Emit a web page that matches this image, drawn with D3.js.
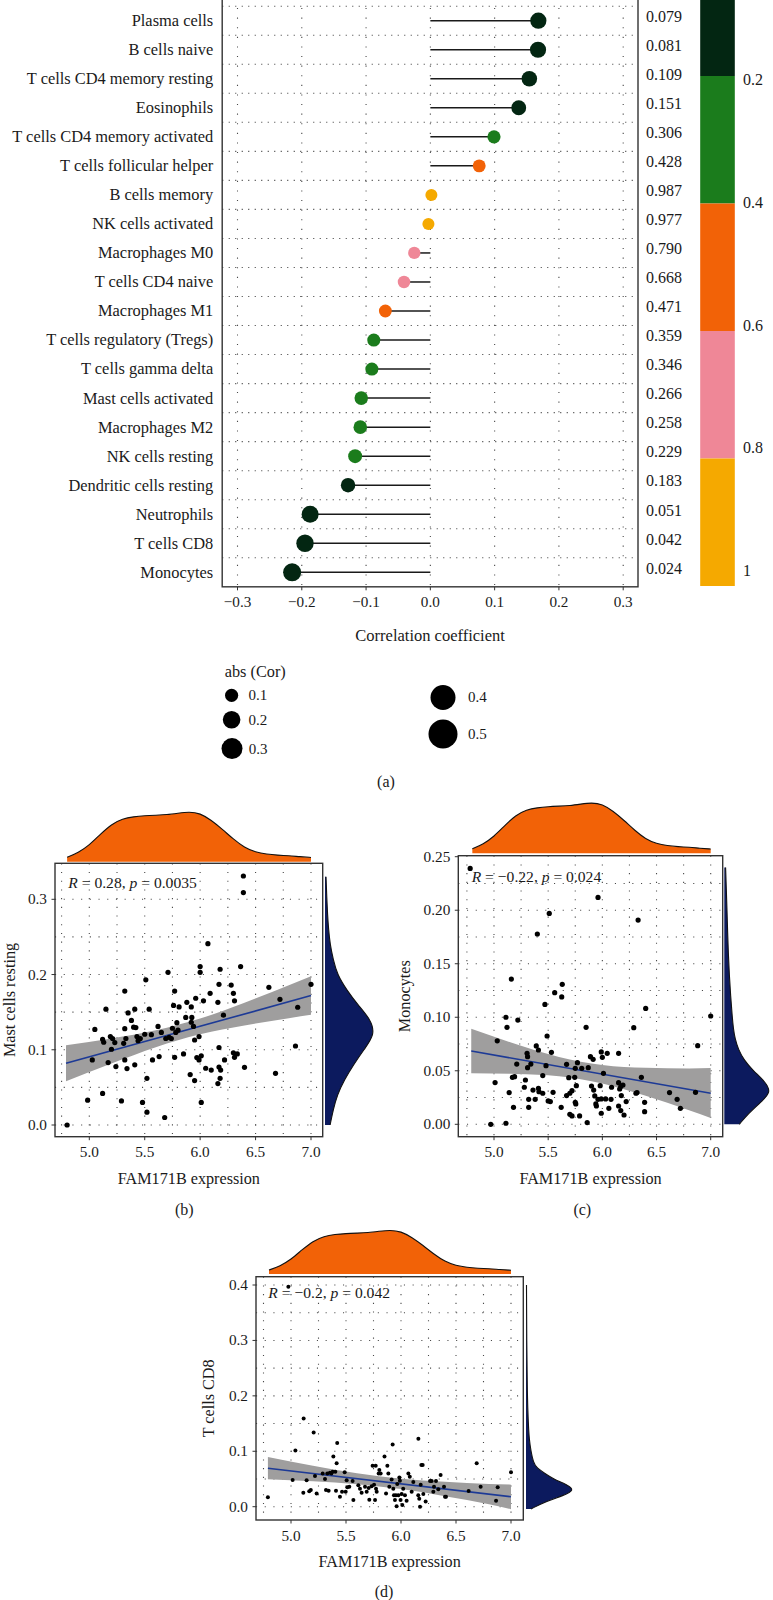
<!DOCTYPE html>
<html><head><meta charset="utf-8">
<script src="https://cdn.jsdelivr.net/npm/d3@7"></script>
<style>
body{margin:0;background:#fff}
svg{display:block}
svg text{font-family:'Liberation Serif','DejaVu Serif','Times New Roman',serif !important;fill:#1a1a1a}
</style>
</head><body>
<svg id="chart" width="773" height="1600" font-family="Liberation Serif, DejaVu Serif, serif"></svg>
<script>
// ---------------- Panel (a) data ----------------
const cellTypes = ["Plasma cells","B cells naive","T cells CD4 memory resting","Eosinophils",
  "T cells CD4 memory activated","T cells follicular helper","B cells memory","NK cells activated",
  "Macrophages M0","T cells CD4 naive","Macrophages M1","T cells regulatory (Tregs)",
  "T cells gamma delta","Mast cells activated","Macrophages M2","NK cells resting",
  "Dendritic cells resting","Neutrophils","T cells CD8","Monocytes"];
const corValues = [0.168,0.1675,0.154,0.1375,0.099,0.076,0.0016,-0.003,-0.025,-0.041,
  -0.070,-0.088,-0.091,-0.1075,-0.109,-0.117,-0.128,-0.187,-0.195,-0.215];
const pValues = [0.079,0.081,0.109,0.151,0.306,0.428,0.987,0.977,0.790,0.668,
  0.471,0.359,0.346,0.266,0.258,0.229,0.183,0.051,0.042,0.024];
const corTicks = [-0.3,-0.2,-0.1,0.0,0.1,0.2,0.3];
const pBreaks = [0.2,0.4,0.6,0.8];
const pColors = ["#032612","#1b7c1c","#f26207","#ef8797","#f5a900"];
const pBarLabels = ["0.2","0.4","0.6","0.8","1"];
const sizeLegendValues = [0.1,0.2,0.3,0.4,0.5];

// ---------------- Scatter data ----------------
const exprTicks = [5.0,5.5,6.0,6.5,7.0];
const mastTicks = [0.0,0.1,0.2,0.3];
const monoTicks = [0.00,0.05,0.10,0.15,0.20,0.25];
const cd8Ticks = [0.0,0.1,0.2,0.3,0.4];

const mastPoints = [[4.80,0.000],[4.985,0.033],[5.027,0.0865],[5.05,0.127],[5.12,0.042],[5.12,0.114],[5.13,0.110],[5.15,0.154],[5.17,0.083],[5.19,0.1175],[5.20,0.1007],[5.21,0.115],[5.23,0.1095],[5.24,0.0776],[5.29,0.032],[5.31,0.1086],[5.32,0.0865],[5.32,0.178],[5.32,0.128],[5.33,0.115],[5.34,0.075],[5.35,0.149],[5.38,0.139],[5.40,0.130],[5.41,0.080],[5.41,0.154],[5.42,0.1295],[5.43,0.1175],[5.44,0.112],[5.46,0.115],[5.48,0.030],[5.50,0.1206],[5.51,0.193],[5.52,0.062],[5.52,0.017],[5.54,0.154],[5.56,0.120],[5.57,0.0865],[5.62,0.131],[5.63,0.091],[5.65,0.123],[5.68,0.010],[5.69,0.115],[5.71,0.203],[5.72,0.1166],[5.74,0.115],[5.75,0.1286],[5.76,0.159],[5.77,0.178],[5.77,0.090],[5.78,0.123],[5.79,0.136],[5.80,0.126],[5.81,0.157],[5.85,0.0945],[5.87,0.143],[5.88,0.163],[5.91,0.067],[5.92,0.1366],[5.92,0.157],[5.925,0.143],[5.94,0.131],[5.95,0.059],[5.95,0.113],[5.96,0.1685],[5.97,0.0896],[5.99,0.0865],[5.99,0.1175],[6.00,0.2106],[6.00,0.203],[6.01,0.092],[6.01,0.030],[6.03,0.165],[6.05,0.0754],[6.07,0.241],[6.09,0.175],[6.10,0.073],[6.16,0.163],[6.16,0.055],[6.17,0.187],[6.17,0.103],[6.17,0.077],[6.18,0.207],[6.18,0.062],[6.185,0.073],[6.21,0.146],[6.22,0.0865],[6.28,0.186],[6.30,0.175],[6.30,0.096],[6.31,0.165],[6.31,0.090],[6.335,0.0945],[6.365,0.2106],[6.40,0.0767],[6.39,0.331],[6.39,0.309],[6.62,0.183],[6.68,0.0687],[6.72,0.167],[6.86,0.105],[6.88,0.1565],[7.00,0.187]];

const monoPoints = [[4.78,0.239],[4.97,0.000],[5.01,0.039],[5.03,0.078],[5.11,0.100],[5.11,0.001],[5.12,0.0906],[5.14,0.0296],[5.16,0.1357],[5.18,0.0159],[5.17,0.0439],[5.19,0.0445],[5.21,0.0563],[5.22,0.0974],[5.28,0.0346],[5.29,0.0414],[5.305,0.0663],[5.31,0.0632],[5.31,0.0529],[5.32,0.0233],[5.32,0.0159],[5.34,0.0563],[5.36,0.032],[5.38,0.0233],[5.39,0.0732],[5.40,0.1778],[5.41,0.0694],[5.41,0.0336],[5.415,0.0305],[5.45,0.0455],[5.45,0.029],[5.47,0.112],[5.48,0.0548],[5.49,0.0825],[5.50,0.0218],[5.51,0.197],[5.52,0.0212],[5.53,0.0672],[5.545,0.0299],[5.56,0.123],[5.62,0.0159],[5.625,0.119],[5.63,0.1308],[5.67,0.056],[5.67,0.0268],[5.69,0.0436],[5.70,0.029],[5.70,0.0093],[5.72,0.0078],[5.72,0.0314],[5.745,0.0439],[5.75,0.0523],[5.75,0.0205],[5.755,0.019],[5.76,0.0361],[5.77,0.0576],[5.79,0.0078],[5.81,0.0523],[5.85,0.0906],[5.86,0.0016],[5.87,0.0529],[5.89,0.0632],[5.90,0.0358],[5.915,0.0607],[5.92,0.032],[5.93,0.0265],[5.94,0.019],[5.945,0.0171],[5.96,0.212],[5.96,0.0233],[5.98,0.0361],[5.99,0.0103],[5.99,0.0237],[5.99,0.0676],[6.00,0.0626],[6.01,0.0476],[6.03,0.0237],[6.045,0.0663],[6.06,0.0149],[6.08,0.0233],[6.085,0.0346],[6.15,0.0663],[6.15,0.0389],[6.15,0.0171],[6.16,0.033],[6.17,0.0128],[6.17,0.0352],[6.175,0.0268],[6.19,0.0367],[6.20,0.0087],[6.22,0.0212],[6.29,0.0903],[6.31,0.029],[6.32,0.0296],[6.33,0.1908],[6.36,0.0439],[6.39,0.0205],[6.39,0.0118],[6.40,0.1083],[6.62,0.0296],[6.69,0.0233],[6.72,0.0149],[6.86,0.0299],[6.88,0.0735],[7.00,0.1012]];

const cd8Points = [[4.976,0.397],[5.115,0.159],[5.206,0.134],[5.04,0.1015],[5.42,0.115],[6.158,0.1227],[5.924,0.112],[5.385,0.0906],[5.85,0.0906],[6.688,0.0785],[7.0,0.062],
  [4.79,0.017],[5.015,0.048],[5.112,0.0253],[5.142,0.0475],[5.166,0.028],[5.18,0.030],[5.218,0.0553],[5.233,0.024],[5.288,0.0601],[5.309,0.050],[5.318,0.030],[5.33,0.060],[5.342,0.0289],[5.354,0.0614],[5.367,0.060],[5.379,0.063],[5.403,0.063],[5.409,0.0289],[5.415,0.0782],[5.445,0.018],[5.464,0.027],[5.488,0.062],[5.497,0.027],[5.506,0.0475],[5.512,0.035],[5.53,0.036],[5.56,0.0463],[5.567,0.012],[5.612,0.0385],[5.627,0.0325],[5.642,0.0253],[5.673,0.036],[5.688,0.027],[5.706,0.0337],[5.712,0.0126],[5.733,0.0367],[5.742,0.074],[5.755,0.0397],[5.764,0.012],[5.77,0.074],[5.773,0.0325],[5.779,0.027],[5.797,0.060],[5.803,0.066],[5.815,0.060],[5.864,0.024],[5.876,0.074],[5.885,0.060],[5.894,0.036],[5.915,0.049],[5.93,0.0325],[5.936,0.0205],[5.945,0.012],[5.954,0.0205],[5.96,0.001],[5.966,0.041],[5.976,0.0205],[5.985,0.0529],[5.99,0.0469],[5.996,0.012],[6.006,0.0229],[6.012,0.003],[6.02,0.0325],[6.036,0.0205],[6.051,0.0108],[6.067,0.060],[6.08,0.054],[6.097,0.027],[6.112,0.0445],[6.157,0.0205],[6.166,0.0144],[6.173,0.000],[6.179,0.0397],[6.185,0.0752],[6.197,0.0752],[6.203,0.0229],[6.224,0.0096],[6.264,0.0463],[6.279,0.0463],[6.294,0.027],[6.30,0.036],[6.318,0.0463],[6.339,0.0313],[6.36,0.0571],[6.391,0.036],[6.40,0.018],[6.409,0.018],[6.615,0.0283],[6.724,0.0361],[6.864,0.0108],[6.879,0.0349]];

// regression fits and confidence bands
const bandX = [4.79,5.2,5.6,6.0,6.4,6.8,7.0];
const mastFit = [0.082,0.172];
const mastBandLo = [0.058,0.0818,0.1035,0.1206,0.1324,0.1419,0.1464];
const mastBandHi = [0.106,0.115,0.1259,0.1415,0.1626,0.1857,0.1976];
const monoFit = [0.0685,0.029];
const monoBandLo = [0.0478,0.0470,0.0449,0.0382,0.0266,0.0132,0.0060];
const monoBandHi = [0.0892,0.0750,0.0629,0.0554,0.0528,0.0522,0.0525];
const cd8Fit = [0.0695,0.018];
const cd8BandLo = [0.0495,0.0457,0.0406,0.0319,0.0190,0.0044,-0.0045];
const cd8BandHi = [0.0895,0.0739,0.0604,0.0505,0.0448,0.0409,0.0398];

// marginal densities (relative heights)
const exprDensX = [4.8,4.9,5.0,5.1,5.2,5.3,5.4,5.5,5.6,5.7,5.8,5.9,6.0,6.1,6.2,6.3,6.4,6.5,6.6,6.7,6.8,6.9,7.0];
const exprDens = [0.09,0.18,0.33,0.55,0.75,0.86,0.90,0.92,0.93,0.94,0.97,1.0,0.97,0.83,0.65,0.45,0.28,0.19,0.15,0.13,0.12,0.10,0.085];
const mastDensY = [0,0.02,0.04,0.06,0.08,0.10,0.12,0.14,0.16,0.18,0.20,0.22,0.24,0.26,0.28,0.30,0.33];
const mastDens = [5,8,12,19,28,38,49,45,32,21,12,8,5,3.5,2.5,1.8,1];
const monoDensY = [0,0.01,0.02,0.03,0.04,0.05,0.06,0.07,0.08,0.09,0.10,0.12,0.14,0.16,0.18,0.20,0.22,0.24];
const monoDens = [15,24,35.7,47.3,40.7,29,19.7,14,10.7,9,8,6.3,5,4,3.3,2.7,2,1.3];
const cd8DensY = [-0.004,0.01,0.02,0.03,0.04,0.05,0.06,0.07,0.08,0.10,0.12,0.15,0.20,0.30,0.40];
const cd8Dens = [5,20.7,37.3,49,40.7,27.3,19,10.7,7.3,5,3.3,2.3,1.3,0.7,0.5];

// ---------------- Drawing ----------------
const FONT = "Liberation Serif, DejaVu Serif, serif";
const svg = d3.select("#chart");
const DOT = "1.1 7.6";
const GRID = "#4a4a4a";

// ===== Panel (a) =====
(function(){
  const L = 222.2, R = 638;
  const x = d3.scaleLinear().domain([-0.3,0.3]).range([237.5,623.2]);
  const y = d3.scalePoint().domain(cellTypes).range([20.7,572.3]);
  const step = y.step();
  const B = y(cellTypes[cellTypes.length-1]) + step/2;
  const T = -40;
  const color = d3.scaleThreshold().domain(pBreaks).range(pColors);
  const size = d3.scaleLinear().domain([0,0.1,0.2,0.3,0.4,0.5]).range([6,6.6,8.8,10.5,12.5,14.5]);
  const g = svg.append("g").attr("font-family",FONT);

  g.selectAll(".hg").data(cellTypes).join("line")
    .attr("x1",L).attr("x2",R)
    .attr("y1",d=>y(d)-step/2).attr("y2",d=>y(d)-step/2)
    .attr("stroke",GRID).attr("stroke-width",1.1).attr("stroke-dasharray","1.1 5.4");
  g.selectAll(".vg").data(corTicks).join("line")
    .attr("x1",d=>x(d)).attr("x2",d=>x(d)).attr("y1",T).attr("y2",B)
    .attr("stroke",GRID).attr("stroke-width",1.1).attr("stroke-dasharray","1.1 8.5");

  const rows = cellTypes.map((c,i)=>({c, v:corValues[i], p:pValues[i]}));
  g.selectAll(".seg").data(rows).join("line")
    .attr("x1",x(0)).attr("x2",d=>x(d.v))
    .attr("y1",d=>y(d.c)).attr("y2",d=>y(d.c))
    .attr("stroke","#1a1a1a").attr("stroke-width",1.5);
  g.selectAll(".pt").data(rows).join("circle")
    .attr("cx",d=>x(d.v)).attr("cy",d=>y(d.c))
    .attr("r",d=>size(Math.abs(d.v)))
    .attr("fill",d=>color(d.p));

  g.append("rect").attr("x",L).attr("y",T).attr("width",R-L).attr("height",B-T)
    .attr("fill","none").attr("stroke","#333").attr("stroke-width",1.4);

  g.selectAll(".rl").data(cellTypes).join("text")
    .attr("x",L-9).attr("y",d=>y(d)).attr("dy","0.33em")
    .attr("text-anchor","end").attr("font-size",16.4).text(d=>d);

  g.selectAll(".pv").data(rows).join("text")
    .attr("x",646).attr("y",d=>y(d.c)-4).attr("dy","0.33em")
    .attr("font-size",16).text(d=>d3.format(".3f")(d.p));

  g.selectAll(".xt").data(corTicks).join("line")
    .attr("x1",d=>x(d)).attr("x2",d=>x(d)).attr("y1",B).attr("y2",B+3.5)
    .attr("stroke","#333").attr("stroke-width",1);
  g.selectAll(".xl").data(corTicks).join("text")
    .attr("x",d=>x(d)).attr("y",601.7).attr("dy","0.33em")
    .attr("text-anchor","middle").attr("font-size",15.2).text(d=>d3.format(".1f")(d));
  g.append("text").attr("x",(L+R)/2).attr("y",636).attr("dy","0.33em")
    .attr("text-anchor","middle").attr("font-size",16.5).text("Correlation coefficient");

  const cb = d3.scaleLinear().domain([0.2,1]).range([76,586]);
  const bins = [0,0.2,0.4,0.6,0.8,1];
  g.selectAll(".cb").data(pColors).join("rect")
    .attr("x",700.2).attr("width",34.6)
    .attr("y",(d,i)=>cb(bins[i])).attr("height",(d,i)=>cb(bins[i+1])-cb(bins[i]))
    .attr("fill",d=>d);
  const cbl = d3.scaleLinear().domain([0.2,1]).range([80,570.7]);
  g.selectAll(".cbl").data(pBarLabels).join("text")
    .attr("x",743).attr("y",d=>cbl(+d)).attr("dy","0.33em")
    .attr("font-size",16).text(d=>d);

  g.append("text").attr("x",224.7).attr("y",671.7).attr("dy","0.33em")
    .attr("font-size",16.3).text("abs (Cor)");
  const legPos = [[231.6,695.3],[231.6,719.7],[232,748.6],[443,697.5],[443,734]];
  sizeLegendValues.forEach((v,i)=>{
    g.append("circle").attr("cx",legPos[i][0]).attr("cy",legPos[i][1]).attr("r",size(v)).attr("fill","#000");
    g.append("text").attr("x",legPos[i][0] + (i<3?16.8:25)).attr("y",legPos[i][1]).attr("dy","0.33em")
      .attr("font-size",15).text(d3.format(".1f")(v));
  });
  g.append("text").attr("x",386).attr("y",781.7).attr("dy","0.33em")
    .attr("text-anchor","middle").attr("font-size",16).text("(a)");
})();

// ===== Scatter panels =====
function drawScatter(cfg){
  const [L,T,R,B] = cfg.box;
  const g = svg.append("g").attr("font-family",FONT);
  const x = d3.scaleLinear().domain([5,7]).range(cfg.xr);
  const y = d3.scaleLinear().domain([cfg.yTicks[0], cfg.yTicks[cfg.yTicks.length-1]]).range(cfg.yr);

  const xg = d3.range(4.75, 7.0001, 0.25);
  const yg = d3.range(0, cfg.yTicks[cfg.yTicks.length-1]+1e-9, cfg.gstep).filter(v=>y(v)>T+1);
  g.selectAll(".vg").data(xg).join("line")
    .attr("x1",d=>x(d)).attr("x2",d=>x(d)).attr("y1",T).attr("y2",B)
    .attr("stroke",GRID).attr("stroke-width",1.1).attr("stroke-dasharray",DOT);
  g.selectAll(".hg").data(yg).join("line")
    .attr("x1",L).attr("x2",R).attr("y1",d=>y(d)).attr("y2",d=>y(d))
    .attr("stroke",GRID).attr("stroke-width",1.1).attr("stroke-dasharray",DOT);

  const band = bandX.map((v,i)=>({x:v, lo:cfg.lo[i], hi:cfg.hi[i]}));
  g.append("path").datum(band)
    .attr("d", d3.area().x(d=>x(d.x)).y0(d=>y(d.lo)).y1(d=>y(d.hi)).curve(d3.curveMonotoneX))
    .attr("fill","#9f9e9e");
  g.append("line")
    .attr("x1",x(bandX[0])).attr("x2",x(bandX[bandX.length-1]))
    .attr("y1",y(cfg.fit[0])).attr("y2",y(cfg.fit[1]))
    .attr("stroke","#1d3a96").attr("stroke-width",1.6);
  g.selectAll(".dot").data(cfg.points).join("circle")
    .attr("cx",d=>x(d[0])).attr("cy",d=>y(d[1])).attr("r",cfg.pr).attr("fill","#000");

  g.append("rect").attr("x",L).attr("y",T).attr("width",R-L).attr("height",B-T)
    .attr("fill","none").attr("stroke","#333").attr("stroke-width",1.4);

  g.selectAll(".yt").data(cfg.yTicks).join("line")
    .attr("x1",L-3.5).attr("x2",L).attr("y1",d=>y(d)).attr("y2",d=>y(d))
    .attr("stroke","#333");
  g.selectAll(".yl").data(cfg.yTicks).join("text")
    .attr("x",L-8).attr("y",d=>y(d)).attr("dy","0.33em").attr("text-anchor","end")
    .attr("font-size",15.3).text(d=>d3.format(cfg.yfmt)(d));
  g.selectAll(".xt").data(exprTicks).join("line")
    .attr("x1",d=>x(d)).attr("x2",d=>x(d)).attr("y1",B).attr("y2",B+3.5)
    .attr("stroke","#333");
  g.selectAll(".xl").data(exprTicks).join("text")
    .attr("x",d=>x(d)).attr("y",B+15.6).attr("dy","0.33em").attr("text-anchor","middle")
    .attr("font-size",15.3).text(d=>d3.format(".1f")(d));
  g.append("text").attr("x",(L+R)/2).attr("y",B+41.6).attr("dy","0.33em")
    .attr("text-anchor","middle").attr("font-size",16.2).text("FAM171B expression");
  g.append("text").attr("transform",`translate(${cfg.ytx},${(T+B)/2}) rotate(-90)`)
    .attr("dy","0.33em").attr("text-anchor","middle").attr("font-size",16.2).text(cfg.ytitle);
  g.append("text").attr("x",cfg.lab[0]).attr("y",cfg.lab[1]).attr("dy","0.33em")
    .attr("text-anchor","middle").attr("font-size",16).text(cfg.label);

  const t = g.append("text").attr("x",cfg.rt[0]).attr("y",cfg.rt[1]).attr("dy","0.33em").attr("font-size",15.6);
  t.append("tspan").attr("font-style","italic").text("R");
  t.append("tspan").text(" = " + cfg.rText + ", ");
  t.append("tspan").attr("font-style","italic").text("p");
  t.append("tspan").text(" = " + cfg.pText);

  const td = d3.scaleLinear().domain([0, d3.max(exprDens)]).range([cfg.topBase, cfg.topBase - cfg.topH]);
  const tdata = exprDensX.map((v,i)=>[v, exprDens[i]]);
  g.append("path").datum(tdata)
    .attr("d", d3.area().x(d=>x(d[0])).y0(cfg.topBase).y1(d=>td(d[1])).curve(d3.curveBasis))
    .attr("fill","#f26207");
  g.append("path").datum(tdata)
    .attr("d", d3.line().x(d=>x(d[0])).y(d=>td(d[1])).curve(d3.curveBasis))
    .attr("fill","none").attr("stroke","#111").attr("stroke-width",1.1);

  const rd = d3.scaleLinear().domain([0, d3.max(cfg.rDens)]).range([cfg.rBase, cfg.rBase + cfg.rW]);
  const rdata = cfg.rY.map((v,i)=>[v, cfg.rDens[i]]);
  g.append("path").datum(rdata)
    .attr("d", d3.area().y(d=>y(d[0])).x0(cfg.rBase).x1(d=>rd(d[1])).curve(d3.curveBasis))
    .attr("fill","#0c1a5e");
  g.append("path").datum(rdata)
    .attr("d", d3.line().y(d=>y(d[0])).x(d=>rd(d[1])).curve(d3.curveBasis))
    .attr("fill","none").attr("stroke","#111").attr("stroke-width",1.1);
}

drawScatter({
  box:[55,863.3,322.7,1136.7], xr:[89.3,311], yr:[1125,899.3],
  yTicks:mastTicks, gstep:0.05, yfmt:".1f",
  points:mastPoints, fit:mastFit, lo:mastBandLo, hi:mastBandHi, pr:2.6,
  ytitle:"Mast cells resting", ytx:10, label:"(b)", lab:[184.3,1209.3],
  rt:[68.3,883.3], rText:"0.28", pText:"0.0035",
  topBase:861.7, topH:50, rBase:325, rW:50, rY:mastDensY, rDens:mastDens
});
drawScatter({
  box:[458.3,855.7,722.7,1136.7], xr:[494,710.7], yr:[1124.3,856.7],
  yTicks:monoTicks, gstep:0.025, yfmt:".2f",
  points:monoPoints, fit:monoFit, lo:monoBandLo, hi:monoBandHi, pr:2.6,
  ytitle:"Monocytes", ytx:405, label:"(c)", lab:[582.3,1209.3],
  rt:[471.7,876.7], rText:"\u22120.22", pText:"0.024",
  topBase:853.3, topH:50.7, rBase:724.3, rW:47.3, rY:monoDensY, rDens:monoDens
});
drawScatter({
  box:[256,1276.7,523.3,1520], xr:[291,511], yr:[1506.7,1285],
  yTicks:cd8Ticks, gstep:0.05, yfmt:".1f",
  points:cd8Points, fit:cd8Fit, lo:cd8BandLo, hi:cd8BandHi, pr:2.0,
  ytitle:"T cells CD8", ytx:208.3, label:"(d)", lab:[384,1591.7],
  rt:[268.3,1293.3], rText:"\u22120.2", pText:"0.042",
  topBase:1274, topH:44, rBase:526, rW:49, rY:cd8DensY, rDens:cd8Dens
});
</script>
</body></html>
